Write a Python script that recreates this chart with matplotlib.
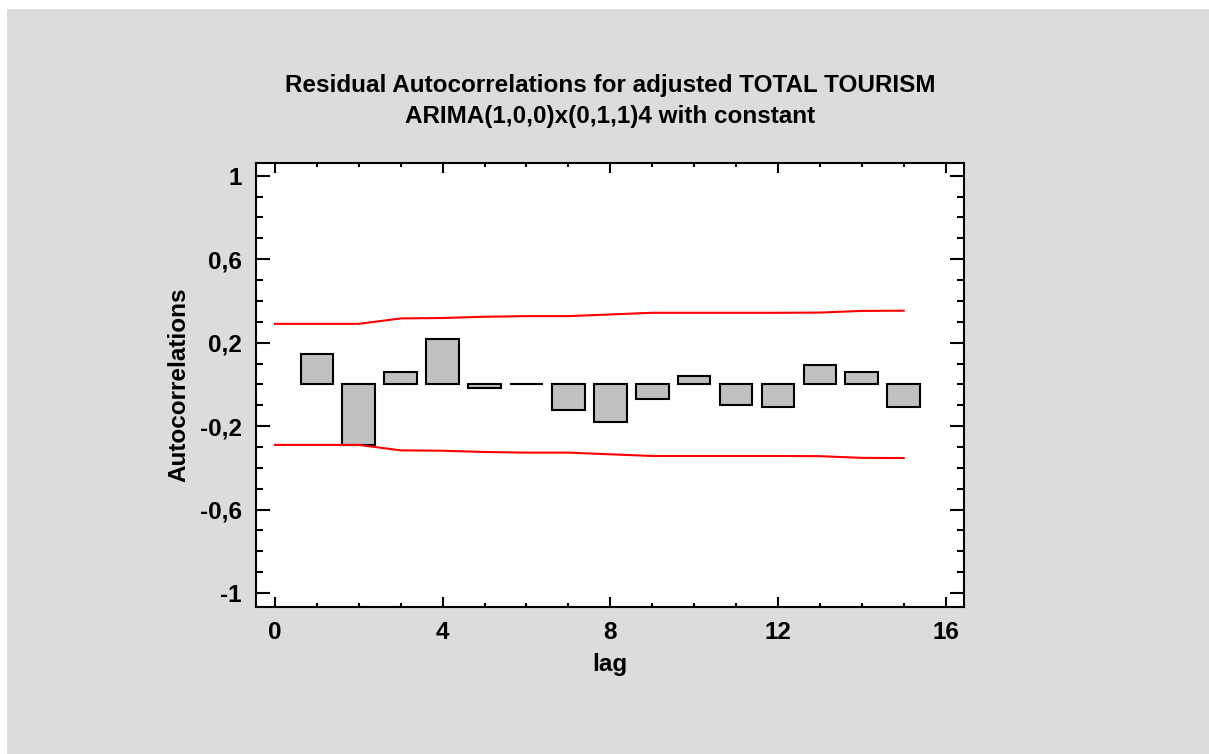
import matplotlib.pyplot as plt
from matplotlib.patches import Rectangle
from matplotlib.ticker import MultipleLocator, FuncFormatter

# residual autocorrelations per lag
lags = [1, 2, 3, 4, 5, 6, 7, 8, 9, 10, 11, 12, 13, 14, 15]
acf = [0.145, -0.29, 0.057, 0.217, -0.016, 0.002, -0.125, -0.18,
       -0.07, 0.04, -0.10, -0.108, 0.094, 0.059, -0.108]

# 95% probability limits, drawn as +/- around zero
limit_lags = [0, 1, 2, 3, 4, 5, 6, 7, 8, 9, 10, 11, 12, 13, 14, 15]
limits = [0.290, 0.290, 0.290, 0.316, 0.318, 0.324, 0.327, 0.327,
          0.335, 0.343, 0.343, 0.343, 0.343, 0.344, 0.352, 0.353]

title = "Residual Autocorrelations for adjusted TOTAL TOURISM\nARIMA(1,0,0)x(0,1,1)4 with constant"

plt.rcParams['font.family'] = ['Liberation Sans', 'DejaVu Sans']
plt.rcParams['font.weight'] = 'bold'

fig = plt.figure(figsize=(12.09, 7.54), dpi=100, facecolor='white')
# gray panel behind the chart
fig.patches.append(Rectangle((7 / 1209, 0), 1, 1 - 9 / 754, transform=fig.transFigure,
                             facecolor='#dcdcdc', edgecolor='none', zorder=-1))

ax = fig.add_axes([0.2115, 0.1954, 0.5859, 0.5888])
ax.set_facecolor('white')

ax.bar(lags, acf, width=0.78, color='#c0c0c0', edgecolor='black', linewidth=1.5, zorder=2)
ax.plot(limit_lags, limits, color='red', linewidth=1.5, zorder=3)
ax.plot(limit_lags, [-v for v in limits], color='red', linewidth=1.5, zorder=3)

ax.set_xlim(-0.46, 16.44)
ax.set_ylim(-1.065, 1.062)

ax.xaxis.set_major_locator(MultipleLocator(4))
ax.xaxis.set_minor_locator(MultipleLocator(1))
ax.yaxis.set_major_locator(MultipleLocator(0.4, offset=0.2))
ax.yaxis.set_minor_locator(MultipleLocator(0.1))
ax.yaxis.set_major_formatter(FuncFormatter(lambda v, p: f"{v:g}".replace('.', ',')))

for s in ax.spines.values():
    s.set_linewidth(1.5)

ax.tick_params(axis='both', which='both', direction='in', top=True, right=True,
               width=1.5, labelsize=17.5)
ax.tick_params(axis='y', which='major', length=10, pad=10)
ax.tick_params(axis='y', which='minor', length=4.8)
ax.tick_params(axis='x', which='major', length=7.5, pad=10)
ax.tick_params(axis='x', which='minor', length=3)

ax.set_xlabel('lag', fontsize=17.5, fontweight='bold', labelpad=7)
ax.set_ylabel('Autocorrelations', fontsize=17.5, fontweight='bold', labelpad=6.5)
ax.set_title(title, fontsize=17.5, fontweight='bold', pad=28.5, linespacing=1.45)

fig.savefig('out.png', dpi=100, facecolor=fig.get_facecolor())
